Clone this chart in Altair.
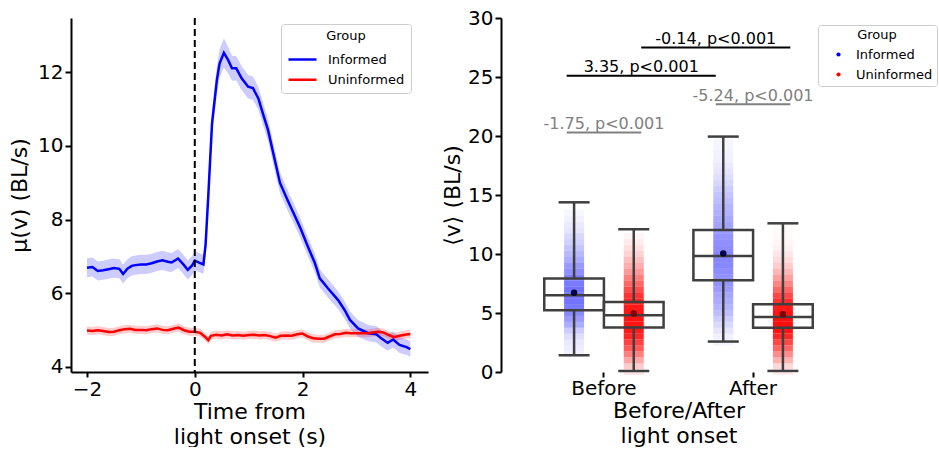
import altair as alt
import pandas as pd

FONT = "DejaVu Sans"
GROUPS = ["Informed", "Uninformed"]
PERIODS = ["Before", "After"]

# ---------------- left panel: mean speed around light onset ----------------
t_inf = [-2.0, -1.9, -1.8, -1.7, -1.6, -1.5, -1.4, -1.33, -1.25, -1.17,
         -1.1, -1.0, -0.9, -0.8, -0.7, -0.6, -0.5, -0.43, -0.31, -0.2,
         -0.13, -0.05, 0.0, 0.08, 0.16, 0.2, 0.25, 0.32, 0.41, 0.46,
         0.54, 0.62, 0.69, 0.77, 0.87, 0.99, 1.08, 1.18, 1.27, 1.36,
         1.48, 1.58, 1.7, 1.8, 1.95, 2.1, 2.23, 2.32, 2.47, 2.66,
         2.78, 2.88, 3.03, 3.22, 3.37, 3.46, 3.58, 3.68, 3.8, 3.93, 4.0]
v_inf = [6.69, 6.71, 6.60, 6.62, 6.65, 6.68, 6.66, 6.52, 6.66, 6.74,
         6.76, 6.78, 6.78, 6.81, 6.86, 6.89, 6.85, 6.83, 6.94, 6.76,
         6.63, 6.75, 6.88, 6.83, 6.78, 7.30, 8.62, 10.61, 11.79, 12.24,
         12.53, 12.33, 12.11, 12.11, 11.84, 11.61, 11.57, 11.29, 10.85, 10.43,
         9.65, 9.00, 8.60, 8.28, 7.80, 7.26, 6.81, 6.40, 6.13, 5.81,
         5.54, 5.27, 5.04, 4.91, 4.88, 4.77, 4.65, 4.74, 4.59, 4.53, 4.48]
ci_inf = [0.26, 0.26, 0.26, 0.26, 0.26, 0.26, 0.26, 0.26, 0.26, 0.26,
          0.26, 0.26, 0.26, 0.26, 0.26, 0.26, 0.26, 0.26, 0.26, 0.26,
          0.26, 0.26, 0.26, 0.26, 0.26, 0.30, 0.33, 0.35, 0.37, 0.38,
          0.40, 0.36, 0.34, 0.33, 0.33, 0.32, 0.32, 0.31, 0.30, 0.30,
          0.29, 0.28, 0.28, 0.27, 0.27, 0.26, 0.26, 0.25, 0.25, 0.24,
          0.24, 0.23, 0.23, 0.22, 0.22, 0.22, 0.22, 0.22, 0.22, 0.21, 0.21]

t_uni = [-2.0, -1.9, -1.8, -1.7, -1.6, -1.5, -1.4, -1.3, -1.2, -1.1,
         -1.0, -0.9, -0.8, -0.7, -0.6, -0.5, -0.4, -0.3, -0.2, -0.1,
         0.0, 0.1, 0.2, 0.25, 0.3, 0.4, 0.5, 0.6, 0.7, 0.8,
         0.9, 1.0, 1.1, 1.2, 1.3, 1.4, 1.5, 1.6, 1.7, 1.8,
         1.9, 2.0, 2.1, 2.2, 2.3, 2.4, 2.5, 2.6, 2.7, 2.8,
         2.9, 3.0, 3.1, 3.2, 3.3, 3.4, 3.5, 3.6, 3.7, 3.8, 3.9, 4.0]
v_uni = [4.98, 4.97, 4.99, 4.97, 4.94, 4.95, 4.99, 5.02, 5.03, 5.00,
         5.00, 4.99, 5.02, 5.04, 5.00, 4.99, 5.03, 5.06, 4.99, 4.95,
         4.95, 4.92, 4.80, 4.72, 4.84, 4.87, 4.85, 4.88, 4.85, 4.86,
         4.84, 4.86, 4.87, 4.85, 4.86, 4.83, 4.79, 4.84, 4.85, 4.84,
         4.88, 4.90, 4.82, 4.77, 4.76, 4.76, 4.82, 4.88, 4.89, 4.92,
         4.91, 4.91, 4.91, 4.91, 4.93, 4.95, 4.93, 4.86, 4.80, 4.84, 4.87, 4.89]
ci_uni = [0.11, 0.11, 0.11, 0.11, 0.11, 0.11, 0.11, 0.11, 0.11, 0.11,
          0.11, 0.11, 0.11, 0.11, 0.11, 0.11, 0.11, 0.11, 0.11, 0.11,
          0.11, 0.11, 0.11, 0.11, 0.11, 0.11, 0.11, 0.11, 0.11, 0.11,
          0.11, 0.11, 0.11, 0.11, 0.11, 0.11, 0.11, 0.11, 0.11, 0.11,
          0.11, 0.11, 0.11, 0.11, 0.11, 0.11, 0.11, 0.11, 0.11, 0.11,
          0.11, 0.11, 0.11, 0.11, 0.11, 0.11, 0.11, 0.11, 0.11, 0.11, 0.11, 0.11]

onset_time = [0.0]
x_ticks_left = [-2, 0, 2, 4]
y_ticks_left = [4, 6, 8, 10, 12]

# ---------------- right panel: box summaries ----------------
box_period = ["Before", "Before", "After", "After"]
box_group = ["Informed", "Uninformed", "Informed", "Uninformed"]
whisk_lo = [1.42, 0.09, 2.58, 0.09]
q1 = [5.24, 3.77, 7.78, 3.74]
median = [6.51, 4.81, 9.82, 4.67]
q3 = [7.93, 5.94, 12.03, 5.75]
whisk_hi = [14.38, 12.09, 19.95, 12.60]
mean_v = [6.71, 4.96, 10.05, 4.90]

# point-cloud density (relative), per 0.5 BL/s bin
cloud_bins = [0.0, 0.5, 1.0, 1.5, 2.0, 2.5, 3.0, 3.5, 4.0, 4.5,
              5.0, 5.5, 6.0, 6.5, 7.0, 7.5, 8.0, 8.5, 9.0, 9.5,
              10.0, 10.5, 11.0, 11.5, 12.0, 12.5, 13.0, 13.5, 14.0, 14.5,
              15.0, 15.5, 16.0, 16.5, 17.0, 17.5, 18.0, 18.5, 19.0, 19.5]
dens_before_inf = [0, 0, 0, 0.06, 0.07, 0.09, 0.13, 0.2, 0.32, 0.4,
                   0.46, 0.52, 0.55, 0.55, 0.55, 0.52, 0.5, 0.44, 0.4, 0.33,
                   0.28, 0.23, 0.18, 0.15, 0.1, 0.08, 0.05, 0.03, 0, 0,
                   0, 0, 0, 0, 0, 0, 0, 0, 0, 0]
dens_before_uni = [0.10, 0.20, 0.35, 0.50, 0.65, 0.75, 0.85, 0.90, 0.92, 0.92,
                   0.92, 0.90, 0.85, 0.80, 0.70, 0.60, 0.50, 0.40, 0.32, 0.25,
                   0.18, 0.12, 0.08, 0.04, 0, 0, 0, 0, 0, 0,
                   0, 0, 0, 0, 0, 0, 0, 0, 0, 0]
dens_after_inf = [0, 0, 0, 0, 0, 0.04, 0.06, 0.1, 0.15, 0.2,
                  0.26, 0.29, 0.33, 0.35, 0.39, 0.42, 0.43, 0.45, 0.47, 0.47,
                  0.47, 0.45, 0.44, 0.42, 0.39, 0.36, 0.34, 0.31, 0.29, 0.26,
                  0.23, 0.2, 0.16, 0.13, 0.1, 0.08, 0.06, 0.05, 0.04, 0.04]
dens_after_uni = [0.08, 0.15, 0.30, 0.45, 0.60, 0.72, 0.85, 0.92, 0.95, 0.95,
                  0.93, 0.90, 0.82, 0.72, 0.60, 0.48, 0.38, 0.28, 0.20, 0.14,
                  0.10, 0.06, 0.04, 0.02, 0.02, 0.02, 0, 0, 0, 0,
                  0, 0, 0, 0, 0, 0, 0, 0, 0, 0]

# significance brackets (x in category units: Before = 0, After = 1)
br_x1 = [-0.25, -0.25, 0.25, 0.75]
br_x2 = [0.25, 0.75, 1.25, 1.25]
br_y = [20.3, 25.1, 27.5, 22.7]
br_label = ["-1.75, p<0.001", "3.35, p<0.001", "-0.14, p<0.001", "-5.24, p<0.001"]
br_kind = ["within", "between", "between", "within"]

y_ticks_right = [0, 5, 10, 15, 20, 25, 30]

# ---------------- frames ----------------
line_df = pd.concat([
    pd.DataFrame({"t": t_inf, "v": v_inf, "ci": ci_inf, "Group": "Informed"}),
    pd.DataFrame({"t": t_uni, "v": v_uni, "ci": ci_uni, "Group": "Uninformed"}),
], ignore_index=True)

cloud_parts = []
for per, grp, dens in [("Before", "Informed", dens_before_inf),
                       ("Before", "Uninformed", dens_before_uni),
                       ("After", "Informed", dens_after_inf),
                       ("After", "Uninformed", dens_after_uni)]:
    cloud_parts.append(pd.DataFrame({"y": cloud_bins, "dens": dens,
                                     "period": per, "Group": grp}))
cloud_df = pd.concat(cloud_parts, ignore_index=True)
cloud_df = cloud_df[cloud_df["dens"] > 0]

box_df = pd.DataFrame({"period": box_period, "Group": box_group, "lo": whisk_lo,
                       "q1": q1, "med": median, "q3": q3, "hi": whisk_hi,
                       "mean": mean_v})
br_df = pd.DataFrame({"x1": br_x1, "x2": br_x2, "y": br_y,
                      "label": br_label, "kind": br_kind})

BLUE = "#0000ff"
RED = "#ff0000"

# ---------------- left chart ----------------
col_scale = alt.Scale(domain=GROUPS, range=[BLUE, RED])
xs_l = alt.Scale(domain=[-2.297, 4.328], nice=False, zero=False)
ys_l = alt.Scale(domain=[3.855, 13.477], nice=False, zero=False)
ax_xl = alt.Axis(values=x_ticks_left, title=["Time from", "light onset (s)"],
                 tickSize=5, labelPadding=2, titlePadding=2, titleLineHeight=25)
ax_yl = alt.Axis(values=y_ticks_left, title="μ(v) (BL/s)",
                 tickSize=6, labelPadding=2, titlePadding=6)
leg_l = alt.Legend(title="Group", orient="none", legendX=210, legendY=6,
                   symbolType="stroke", symbolSize=784, symbolStrokeWidth=2.5,
                   symbolOpacity=1, labelOffset=10,
                   padding=6, titlePadding=10, rowPadding=6.3,
                   clipHeight=13, titleAnchor="middle",
                   strokeColor="#cccccc", fillColor="white", cornerRadius=3)


def band_layer(group, color):
    return alt.Chart(line_df).transform_filter(alt.datum.Group == group).transform_calculate(
        lo="datum.v - datum.ci", hi="datum.v + datum.ci"
    ).mark_area(opacity=0.2, color=color).encode(
        x=alt.X("t:Q", scale=xs_l, axis=ax_xl),
        y=alt.Y("lo:Q", scale=ys_l, axis=ax_yl),
        y2="hi:Q",
    )


line = alt.Chart(line_df).mark_line(strokeWidth=2.5).encode(
    x=alt.X("t:Q", scale=xs_l, axis=ax_xl),
    y=alt.Y("v:Q", scale=ys_l, axis=ax_yl),
    color=alt.Color("Group:N", scale=col_scale, legend=leg_l),
)

vline = alt.Chart(pd.DataFrame({"t": onset_time})).mark_rule(
    color="black", strokeWidth=2, strokeDash=[7, 4]
).encode(x=alt.X("t:Q", scale=xs_l, axis=ax_xl))

left = alt.layer(band_layer("Informed", BLUE), band_layer("Uninformed", RED),
                 line, vline).properties(width=357, height=354)

# ---------------- right chart ----------------
xs_r = alt.Scale(domain=PERIODS, paddingInner=0.2, paddingOuter=0.29)
xo_r = alt.Scale(domain=GROUPS, paddingInner=0, paddingOuter=0)
ys_r = alt.Scale(domain=[0, 30], nice=False, zero=False)
BOXC = "#3f3f3f"
ax_xr = alt.Axis(title=["Before/After", "light onset"], domain=False,
                 labelAngle=0, tickSize=5, labelPadding=1,
                 titlePadding=2, titleLineHeight=25)
ax_yr = alt.Axis(values=y_ticks_right, title="⟨v⟩ (BL/s)",
                 tickSize=6, labelPadding=2, titlePadding=3)
x_r = alt.X("period:N", scale=xs_r, sort=PERIODS, axis=ax_xr)
xoff = alt.XOffset("Group:N", scale=xo_r, sort=GROUPS)


def yr(field):
    return alt.Y(field, scale=ys_r, axis=ax_yr)


clouds = alt.Chart(cloud_df).mark_tick(size=20, thickness=5.9).encode(
    x=x_r, xOffset=xoff, y=yr("y:Q"),
    opacity=alt.Opacity("dens:Q", scale=None),
    color=alt.Color("Group:N", scale=col_scale,
                    legend=alt.Legend(title="Group", orient="none", legendX=317, legendY=7,
                                      symbolType="circle", symbolSize=18, symbolOpacity=1,
                                      symbolStrokeWidth=0, symbolOffset=10, labelOffset=11,
                                      padding=4, titlePadding=6, rowPadding=6,
                                      clipHeight=13, titleAnchor="middle",
                                      strokeColor="#cccccc", fillColor="white",
                                      cornerRadius=3)),
)

box_base = alt.Chart(box_df)
boxes = box_base.mark_rect(fillOpacity=0, stroke=BOXC, strokeWidth=2.5).encode(
    x=x_r, xOffset=xoff, y=yr("q1:Q"), y2="q3:Q")
wh_lo = box_base.mark_rule(color=BOXC, strokeWidth=2.5).encode(
    x=x_r, xOffset=xoff, y=yr("lo:Q"), y2="q1:Q")
wh_hi = box_base.mark_rule(color=BOXC, strokeWidth=2.5).encode(
    x=x_r, xOffset=xoff, y=yr("q3:Q"), y2="hi:Q")
cap_lo = box_base.mark_tick(color=BOXC, size=31, thickness=2.5, opacity=1).encode(
    x=x_r, xOffset=xoff, y=yr("lo:Q"))
cap_hi = box_base.mark_tick(color=BOXC, size=31, thickness=2.5, opacity=1).encode(
    x=x_r, xOffset=xoff, y=yr("hi:Q"))
med_t = box_base.mark_tick(color=BOXC, size=59.6, thickness=2.5, opacity=1).encode(
    x=x_r, xOffset=xoff, y=yr("med:Q"))
mean_inf = box_base.transform_filter(alt.datum.Group == "Informed").mark_circle(
    size=42, opacity=1, color="#00003c").encode(x=x_r, xOffset=xoff, y=yr("mean:Q"))
mean_uni = box_base.transform_filter(alt.datum.Group == "Uninformed").mark_circle(
    size=42, opacity=1, color="#7a0000").encode(x=x_r, xOffset=xoff, y=yr("mean:Q"))

main_r = alt.layer(clouds, boxes, wh_lo, wh_hi, cap_lo, cap_hi, med_t, mean_inf, mean_uni)

xq = alt.Scale(domain=[-0.6905, 1.6905], nice=False, zero=False)


def brackets(kind, color):
    base = alt.Chart(br_df).transform_filter(alt.datum.kind == kind)
    rule = base.mark_rule(color=color, strokeWidth=2).encode(
        x=alt.X("x1:Q", scale=xq, axis=None), x2="x2:Q", y=yr("y:Q"))
    text = base.transform_calculate(xm="(datum.x1 + datum.x2) / 2").mark_text(
        color=color, font=FONT, fontSize=16, baseline="alphabetic", align="center", dy=-3.5
    ).encode(x=alt.X("xm:Q", scale=xq, axis=None), y=yr("y:Q"), text="label:N")
    return alt.layer(rule, text)


br_layer = alt.layer(brackets("within", "#808080"), brackets("between", "black"))

right = alt.layer(main_r, br_layer).resolve_scale(x="independent").properties(
    width=355, height=354)

chart = alt.hconcat(left, right, spacing=73, bounds="flush").resolve_scale(
    color="independent"
).resolve_legend(color="independent").properties(
    padding={"left": 8, "top": 8, "right": 0, "bottom": 0}
).configure_view(stroke=None).configure_axis(
    domainColor="black", domainWidth=2, tickColor="black", tickWidth=2,
    labelFont=FONT, labelFontSize=20, labelColor="black",
    titleFont=FONT, titleFontSize=22, titleFontWeight="normal", titleColor="black",
    grid=False,
).configure_legend(
    titleFont=FONT, titleFontSize=13, titleFontWeight="normal", titleColor="black",
    labelFont=FONT, labelFontSize=13, labelColor="black",
)

chart.save("out.html", embed_options={"renderer": "svg", "actions": False})
